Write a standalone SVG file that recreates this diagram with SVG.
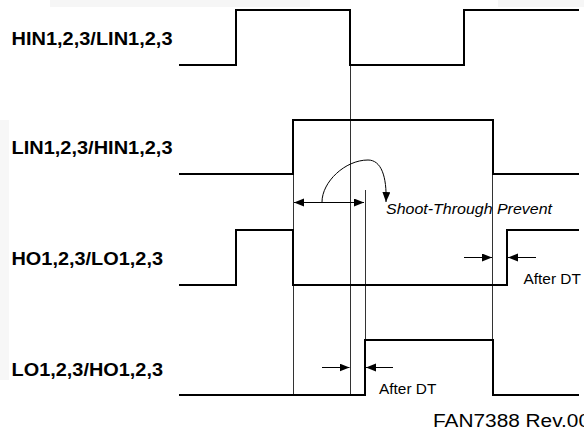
<svg xmlns="http://www.w3.org/2000/svg" width="584" height="432" viewBox="0 0 584 432">
<style>
.wave{fill:none;stroke:#000;stroke-width:2;stroke-linejoin:miter}
.thin{fill:none;stroke:#333;stroke-width:1}
.arr{fill:none;stroke:#000;stroke-width:1}
.lbl{font-family:"Liberation Sans",Arial,sans-serif;font-weight:bold;font-size:18.6px;fill:#000}
.note{font-family:"Liberation Sans",Arial,sans-serif;font-size:15.4px;fill:#000}
</style>
<defs>
<marker id="ah" markerUnits="userSpaceOnUse" markerWidth="11" markerHeight="9" refX="10" refY="4" orient="auto-start-reverse">
<path d="M0,0 L10,4 L0,8 z" fill="#000"/>
</marker>
</defs>
<rect width="584" height="432" fill="#fff"/>
<rect x="50" y="0" width="260" height="7" fill="#f6f6f6"/>
<rect x="498" y="0" width="86" height="7" fill="#f6f6f6"/>
<rect x="0" y="120" width="9" height="260" fill="#f7f7f7"/>

<g id="connectors">
<line class="thin" x1="293.5" y1="120" x2="293.5" y2="395"/>
<line class="thin" x1="350.5" y1="65" x2="350.5" y2="395"/>
<line class="thin" x1="365.5" y1="190" x2="365.5" y2="340"/>
<line class="thin" x1="492.5" y1="120" x2="492.5" y2="395"/>
<line class="arr" x1="294" y1="202.5" x2="364" y2="202.5" marker-start="url(#ah)" marker-end="url(#ah)"/>
<path class="arr" d="M322,202 C322,182 345,160 368,160 C381,160 387,176 386,202" marker-end="url(#ah)"/>
<line class="arr" x1="464" y1="257.5" x2="492" y2="257.5" marker-end="url(#ah)"/>
<line class="arr" x1="536" y1="257.5" x2="508" y2="257.5" marker-end="url(#ah)"/>
<line class="arr" x1="322" y1="367.5" x2="349.5" y2="367.5" marker-end="url(#ah)"/>
<line class="arr" x1="393" y1="367.5" x2="366" y2="367.5" marker-end="url(#ah)"/>
</g>

<g id="hin">
<text class="lbl" x="11.5" y="45" textLength="161" lengthAdjust="spacingAndGlyphs">HIN1,2,3/LIN1,2,3</text>
<polyline class="wave" points="179,65 236,65 236,10 350,10 350,65 464,65 464,10 579,10"/>
</g>
<g id="lin">
<text class="lbl" x="11.5" y="153.5" textLength="161" lengthAdjust="spacingAndGlyphs">LIN1,2,3/HIN1,2,3</text>
<polyline class="wave" points="179,174 293,174 293,120 493,120 493,174 579,174"/>
</g>
<g id="ho">
<text class="lbl" x="11.5" y="265" textLength="151.5" lengthAdjust="spacingAndGlyphs">HO1,2,3/LO1,2,3</text>
<polyline class="wave" points="179,285 236,285 236,230 293,230 293,285 507,285 507,230 579,230"/>
</g>
<g id="lo">
<text class="lbl" x="11.5" y="375.5" textLength="151.5" lengthAdjust="spacingAndGlyphs">LO1,2,3/HO1,2,3</text>
<polyline class="wave" points="179,395 365,395 365,340 493,340 493,395 579,395"/>
</g>

<g id="notes">
<text class="note" x="386" y="214" font-style="italic" textLength="166" lengthAdjust="spacingAndGlyphs">Shoot-Through Prevent</text>
<text class="note" x="523.5" y="284">After DT</text>
<text class="note" x="379" y="394">After DT</text>
<text class="note" x="433" y="426.5" style="font-size:17.5px" textLength="157" lengthAdjust="spacingAndGlyphs">FAN7388 Rev.00</text>
</g>
</svg>
